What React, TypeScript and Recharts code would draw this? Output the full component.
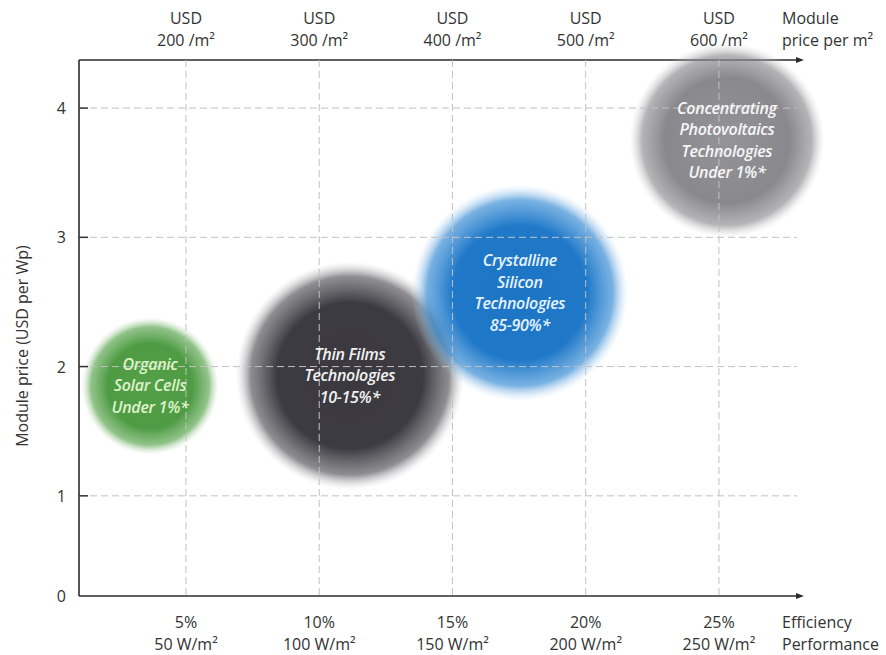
import React from 'react';
import { ScatterChart, Scatter, XAxis, YAxis, ZAxis, CartesianGrid } from 'recharts';

const FONT = "'Open Sans', sans-serif";

// bubbles
const technologies = ['Organic', 'Thin Films', 'Crystalline', 'Concentrating'];
const bubbleText = [
  ['Organic', 'Solar Cells', 'Under 1%*'],
  ['Thin Films', 'Technologies', '10-15%*'],
  ['Crystalline', 'Silicon', 'Technologies', '85-90%*'],
  ['Concentrating', 'Photovoltaics', 'Technologies', 'Under 1%*'],
];
const efficiency = [3.65, 11.15, 17.53, 25.3]; // %
const modulePrice = [1.85, 1.93, 2.57, 3.75]; // USD per Wp
const bubbleSize = [47, 130, 117, 95];

// axes
const efficiencyTicks = [5, 10, 15, 20, 25];
const efficiencyLabels = ['5%', '10%', '15%', '20%', '25%'];
const performanceLabels = ['50 W/m²', '100 W/m²', '150 W/m²', '200 W/m²', '250 W/m²'];
const pricePerM2Labels = ['200 /m²', '300 /m²', '400 /m²', '500 /m²', '600 /m²'];
const priceTicks = [1, 2, 3, 4];
// the drawn axis starts a bit above 0 (broken axis), origin is labelled "0"
const PRICE_ORIGIN = 0.225;
const X_DOMAIN: [number, number] = [0.985, 27.93];
const Y_DOMAIN: [number, number] = [PRICE_ORIGIN, 4.372];

const bubbleStyles: Record<string, { stops: [string, number, number][]; text: string }> = {
  Organic: {
    stops: [['#54a049', 0, 1], ['#4e9b44', 0.62, 1], ['#62a957', 0.86, 0.7], ['#b6d9ad', 1, 0]],
    text: '#dff2cc',
  },
  'Thin Films': {
    stops: [['#3b393f', 0, 1], ['#3c3b41', 0.64, 1], ['#5e5e64', 0.87, 0.7], ['#c4c4c8', 1, 0]],
    text: '#f2f2f2',
  },
  Crystalline: {
    stops: [['#1b74c4', 0, 1], ['#1f78c8', 0.62, 1], ['#3f90d5', 0.86, 0.7], ['#b5d6f2', 1, 0]],
    text: '#e6f3ff',
  },
  Concentrating: {
    stops: [['#949498', 0, 1], ['#89898d', 0.64, 1], ['#8c8c90', 0.87, 0.65], ['#d0d0d2', 1, 0]],
    text: '#f6f6f6',
  },
};

const data = technologies.map((name, i) => ({
  name,
  efficiency: efficiency[i],
  price: modulePrice[i],
  size: bubbleSize[i],
  lines: bubbleText[i],
}));

const gradId = (name: string) => 'bubble-' + name.replace(/\s+/g, '-');

const Bubble = (props: any) => {
  const { cx, cy, width, payload } = props;
  const r = width / 2;
  const st = bubbleStyles[payload.name];
  return (
    <g>
      <defs>
        <radialGradient id={gradId(payload.name)} cx="50%" cy="50%" r="50%">
          {st.stops.map(([c, o, a], k) => (
            <stop key={k} offset={o} stopColor={c} stopOpacity={a} />
          ))}
        </radialGradient>
      </defs>
      <circle cx={cx} cy={cy} r={r} fill={`url(#${gradId(payload.name)})`} />
    </g>
  );
};

const BubbleLabel = (props: any) => {
  const { cx, cy, payload } = props;
  const lines: string[] = payload.lines;
  const lh = 21.5;
  const top = cy - ((lines.length - 1) * lh) / 2;
  return (
    <text
      x={cx}
      y={top}
      textAnchor="middle"
      fill={bubbleStyles[payload.name].text}
      fontFamily={FONT}
      fontStyle="italic"
      fontWeight={600}
      fontSize={16}
      letterSpacing={-0.3}
    >
      {lines.map((l, k) => (
        <tspan key={k} x={cx} y={top + k * lh} dy={5.5}>
          {l}
        </tspan>
      ))}
    </text>
  );
};

const BottomTick = ({ x, y, payload }: any) => {
  const i = efficiencyTicks.indexOf(payload.value);
  return (
    <text x={x} y={y} textAnchor="middle" fill="#333" fontSize={16} fontFamily={FONT}>
      <tspan x={x} dy={32}>{efficiencyLabels[i]}</tspan>
      <tspan x={x} dy={22}>{performanceLabels[i]}</tspan>
    </text>
  );
};

const TopTick = ({ x, y, payload }: any) => {
  const i = efficiencyTicks.indexOf(payload.value);
  return (
    <text x={x} y={y} textAnchor="middle" fill="#333" fontSize={16} fontFamily={FONT}>
      <tspan x={x} dy={-36}>USD</tspan>
      <tspan x={x} dy={22}>{pricePerM2Labels[i]}</tspan>
    </text>
  );
};

const PriceTick = ({ x, y, payload }: any) => {
  const v = payload.value;
  const isOrigin = v === PRICE_ORIGIN;
  return (
    <g>
      {!isOrigin && <line x1={x + 13} x2={x + 22} y1={y} y2={y} stroke="#333" strokeWidth={1.5} />}
      <text x={x} y={y} dy={6} textAnchor="end" fill="#333" fontSize={16} fontFamily={FONT}>
        {isOrigin ? '0' : v}
      </text>
    </g>
  );
};

const sideLabel = (lines: string[], dy1: number) => (props: any) => {
  const vb = props.viewBox;
  const x = vb.x + vb.width - 15;
  const y = vb.y;
  return (
    <text x={x} y={y} fill="#333" fontSize={16} fontFamily={FONT}>
      <tspan x={x} dy={dy1}>{lines[0]}</tspan>
      <tspan x={x} dy={22}>{lines[1]}</tspan>
    </text>
  );
};

const yLabel = (props: any) => {
  const vb = props.viewBox;
  const x = 22;
  const y = vb.y + vb.height / 2 + 18;
  return (
    <text
      x={x}
      y={y}
      transform={`rotate(-90 ${x} ${y})`}
      textAnchor="middle"
      dominantBaseline="central"
      fill="#333"
      fontSize={16}
      fontFamily={FONT}
    >
      Module price (USD per Wp)
    </text>
  );
};

const axisLine = { stroke: '#2b2b2b', strokeWidth: 1.6, markerEnd: 'url(#axis-arrow)' };

export default function App() {
  return (
    <div style={{ position: 'absolute', left: 0, top: 0, background: '#fff', fontFamily: FONT }}>
      <ScatterChart width={886} height={655} margin={{ top: 0, right: 89, bottom: 0, left: 0 }}>
        <defs>
          <marker
            id="axis-arrow"
            markerUnits="userSpaceOnUse"
            markerWidth={8}
            markerHeight={6}
            refX={1}
            refY={3}
            orient="auto"
          >
            <path d="M0,0 L8,3 L0,6 z" fill="#2b2b2b" />
          </marker>
        </defs>
        <XAxis
          type="number"
          dataKey="efficiency"
          domain={X_DOMAIN}
          ticks={efficiencyTicks}
          interval={0}
          height={59}
          tickSize={0}
          tickMargin={0}
          tickLine={false}
          axisLine={axisLine}
          tick={<BottomTick />}
          label={sideLabel(['Efficiency', 'Performance'], 32)}
        />
        {/* price per m² axis, same positions as efficiency (no series attached) */}
        <XAxis
          xAxisId="top"
          orientation="top"
          type="number"
          dataKey="efficiency"
          domain={X_DOMAIN}
          allowDataOverflow
          ticks={efficiencyTicks}
          interval={0}
          height={60}
          tickSize={0}
          tickMargin={0}
          tickLine={false}
          axisLine={axisLine}
          tick={<TopTick />}
          label={sideLabel(['Module', 'price per m²'], 24)}
        />
        <YAxis
          type="number"
          dataKey="price"
          domain={Y_DOMAIN}
          ticks={[PRICE_ORIGIN, ...priceTicks]}
          interval={0}
          width={79}
          tickSize={0}
          tickMargin={13}
          tickLine={false}
          axisLine={{ stroke: '#2b2b2b', strokeWidth: 1.6 }}
          tick={<PriceTick />}
          label={yLabel}
        />
        <ZAxis type="number" dataKey="size" domain={[0, 135]} range={[0, 42412]} />
        <Scatter data={data} shape={<Bubble />} isAnimationActive={false} />
        <CartesianGrid
          stroke="#c2c2c2"
          strokeDasharray="7 4"
          horizontalValues={priceTicks}
          verticalValues={efficiencyTicks}
          zIndex={700}
        />
        <Scatter data={data} shape={<BubbleLabel />} isAnimationActive={false} zIndex={800} />
      </ScatterChart>
    </div>
  );
}
